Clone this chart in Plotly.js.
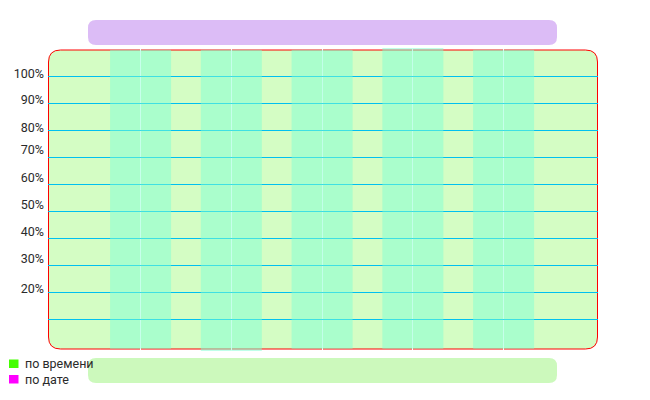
<!DOCTYPE html>
<html>
<head>
<meta charset="utf-8">
<script src="https://cdn.plot.ly/plotly-3.0.1.min.js"></script>
<style>html,body{margin:0;padding:0;background:#fff;}#chart{width:650px;height:400px;}</style>
</head>
<body>
<div id="chart"></div>
<script>
// ---- data ----
const categories = [0, 1, 2, 3, 4];
const seriesNames = ['по времени', 'по дате'];
const legendColors = ['#44ff00', '#ff00ff'];
const timeTops = [1.097, 1.097, 1.097, 1.104, 1.097];
const timeBases = [-0.010, -0.025, -0.010, -0.010, -0.010];
const dateTops = [1.097, 1.097, 1.097, 1.104, 1.097];
const dateBases = [-0.010, -0.025, -0.010, -0.010, -0.010];
const gridVals = [0.1, 0.2, 0.3, 0.4, 0.5, 0.6, 0.7, 0.8, 0.9, 1.0];
const tickLabels = ['20%', '30%', '40%', '50%', '60%', '70%', '80%', '90%', '100%'];
const tickLabelVals = [0.214, 0.325, 0.423, 0.525, 0.623, 0.726, 0.810, 0.911, 1.010];

// ---- geometry helpers (layout only) ----
const L = 48, T = 47, W = 550, H = 304;
const px = x => (x - L) / W;
const py = y => (T + H - y) / H;
function rr(x0, y0, x1, y1, r) {
  return 'M' + px(x0 + r) + ',' + py(y0) +
    ' L' + px(x1 - r) + ',' + py(y0) +
    ' Q' + px(x1) + ',' + py(y0) + ' ' + px(x1) + ',' + py(y0 + r) +
    ' L' + px(x1) + ',' + py(y1 - r) +
    ' Q' + px(x1) + ',' + py(y1) + ' ' + px(x1 - r) + ',' + py(y1) +
    ' L' + px(x0 + r) + ',' + py(y1) +
    ' Q' + px(x0) + ',' + py(y1) + ' ' + px(x0) + ',' + py(y1 - r) +
    ' L' + px(x0) + ',' + py(y0 + r) +
    ' Q' + px(x0) + ',' + py(y0) + ' ' + px(x0 + r) + ',' + py(y0) + ' Z';
}

const barStyle = {color: '#7fffd4', opacity: 0.5, line: {width: 0}};
const traces = [
  {type: 'bar', name: seriesNames[0], x: categories,
   y: timeTops.map((t, i) => t - timeBases[i]), base: timeBases,
   marker: barStyle, showlegend: false, hoverinfo: 'skip'},
  {type: 'bar', name: seriesNames[1], x: categories,
   y: dateTops.map((t, i) => t - dateBases[i]), base: dateBases,
   marker: barStyle, showlegend: false, hoverinfo: 'skip'},
  // carrier for the percent label axis (no marks)
  {type: 'scatter', mode: 'none', x: [], y: [], yaxis: 'y2', showlegend: false, hoverinfo: 'skip'}
];

const font = {family: 'Roboto, sans-serif', size: 12.5, color: '#2a2a2a'};
const yRange = [-0.0185, 1.1074];

const shapes = [
  {type: 'path', xref: 'paper', yref: 'paper', layer: 'below',
   path: rr(48.5, 50, 597.5, 349, 12), fillcolor: '#d4fdc4', line: {color: '#ff0000', width: 1}},
  {type: 'path', xref: 'paper', yref: 'paper', layer: 'below',
   path: rr(88, 20, 557, 45, 8), fillcolor: '#dcbcf6', line: {width: 0}},
  {type: 'path', xref: 'paper', yref: 'paper', layer: 'below',
   path: rr(88, 358, 557, 383, 8), fillcolor: '#ccf9bc', line: {width: 0}}
];
const annotations = [];
seriesNames.forEach((n, i) => {
  const cy = 364 + i * 15.5;
  shapes.push({type: 'rect', xref: 'paper', yref: 'paper', layer: 'above',
    x0: px(9), x1: px(18.5), y0: py(cy - 4.5), y1: py(cy + 4),
    fillcolor: legendColors[i], line: {width: 0}});
  annotations.push({xref: 'paper', yref: 'paper', x: px(23), y: py(cy - 0.5),
    xanchor: 'left', yanchor: 'middle', showarrow: false, text: n, font: font});
});

const layout = {
  width: 650, height: 400,
  margin: {l: 48, r: 52, t: 47, b: 49},
  paper_bgcolor: '#ffffff', plot_bgcolor: 'rgba(0,0,0,0)',
  font: font,
  showlegend: false,
  barmode: 'group', bargap: 0.328, bargroupgap: 0,
  xaxis: {range: [-1.02, 5.04], tickvals: categories, showticklabels: false, ticks: '',
          showgrid: true, gridcolor: '#ffffff', gridwidth: 1, zeroline: false, showline: false},
  yaxis: {range: yRange, tickvals: gridVals, showticklabels: false, ticks: '',
          showgrid: true, gridcolor: '#00c0f0', gridwidth: 1, zeroline: false, showline: false},
  yaxis2: {range: yRange, overlaying: 'y', side: 'left', anchor: 'x',
           tickvals: tickLabelVals, ticktext: tickLabels, ticks: '', showgrid: false,
           zeroline: false, showline: false, tickfont: font, ticklabelstandoff: 3},
  shapes: shapes,
  annotations: annotations
};

Plotly.newPlot('chart', traces, layout, {displayModeBar: false, staticPlot: true});
</script>
</body>
</html>
